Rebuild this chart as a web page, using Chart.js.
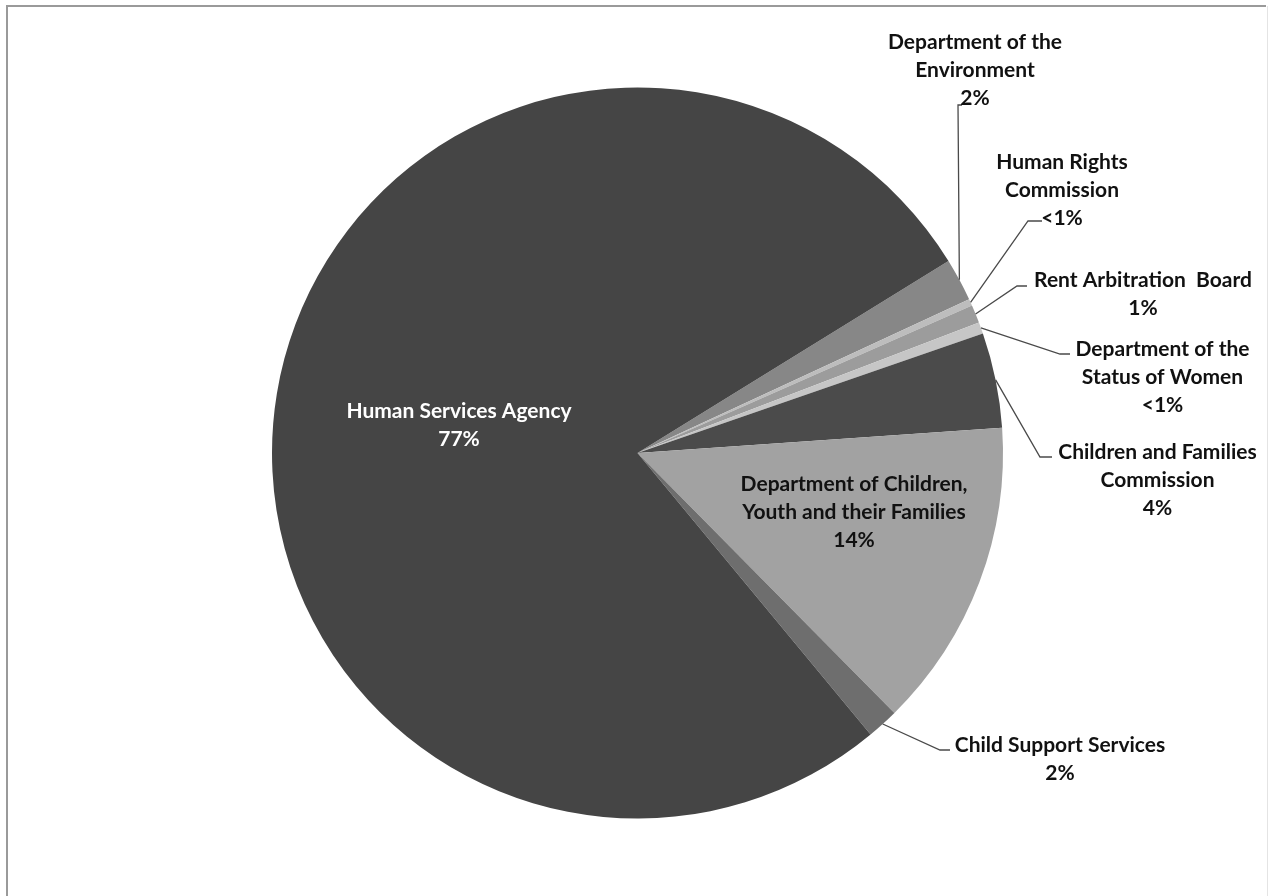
<!DOCTYPE html>
<html>
<head>
<meta charset="utf-8">
<script src="https://cdn.jsdelivr.net/npm/chart.js@4/dist/chart.umd.min.js"></script>
<style>
html,body{margin:0;padding:0;background:#fff;}
#wrap{width:1268px;height:896px;position:relative;}
</style>
</head>
<body>
<div id="wrap"><canvas id="c" width="1268" height="896"></canvas></div>
<script>
// ---- data ----
const categories = [
  "Department of the Environment",
  "Human Rights Commission",
  "Rent Arbitration Board",
  "Department of the Status of Women",
  "Children and Families Commission",
  "Department of Children, Youth and their Families",
  "Child Support Services",
  "Human Services Agency"
];
const shares = [1.9, 0.3, 0.8, 0.5, 4.2, 13.7, 1.4, 77.2];
const pctLabels = ["2%", "<1%", "1%", "<1%", "4%", "14%", "2%", "77%"];
const nameLines = [
  ["Department of the", "Environment"],
  ["Human Rights", "Commission"],
  ["Rent Arbitration  Board"],
  ["Department of the", "Status of Women"],
  ["Children and Families", "Commission"],
  ["Department of Children,", "Youth and their Families"],
  ["Child Support Services"],
  ["Human Services Agency"]
];
const sliceColors = ["#878787", "#bdbdbd", "#9c9c9c", "#c6c6c6", "#4b4b4b", "#a2a2a2", "#6e6e6e", "#454545"];

// ---- label layout (offsets from pie centre, px) ----
const labelLayout = [
  {dx: 337.5, dy: -411, color: "#111", leader: {ex: 320.5, ey: -348, hx: 324.5}},
  {dx: 424.5, dy: -291, color: "#111", leader: {ex: 390.5, ey: -232, hx: 404.5}},
  {dx: 505.5, dy: -173, color: "#111", leader: {ex: 379.5, ey: -167, hx: 389.5}},
  {dx: 525,   dy: -104, color: "#111", leader: {ex: 422.5, ey: -99, hx: 432.5}},
  {dx: 520,   dy: -1,   color: "#111", leader: {ex: 402.5, ey: 4, hx: 414.5}},
  {dx: 216.5, dy: 31,   color: "#111", leader: null},
  {dx: 422.5, dy: 292,  color: "#111", leader: {ex: 302.5, ey: 297, hx: 312.5}},
  {dx: -178.5, dy: -42, color: "#ffffff", leader: null}
];
const LINE_H = 28;
const FONT = "bold 21px Lato, 'Open Sans', sans-serif";

const framePlugin = {
  id: 'frame',
  beforeDraw(chart) {
    const ctx = chart.ctx;
    ctx.save();
    ctx.fillStyle = '#ffffff';
    ctx.fillRect(0, 0, chart.width, chart.height);
    ctx.strokeStyle = '#9a9a9a';
    ctx.lineWidth = 2;
    ctx.beginPath();
    ctx.moveTo(7, chart.height + 2);
    ctx.lineTo(7, 6);
    ctx.lineTo(1266, 6);
    ctx.stroke();
    ctx.strokeStyle = '#e4e4e4';
    ctx.lineWidth = 1;
    ctx.beginPath();
    ctx.moveTo(1267.5, 6);
    ctx.lineTo(1267.5, chart.height);
    ctx.stroke();
    ctx.restore();
  }
};

const labelPlugin = {
  id: 'pieLabels',
  afterDatasetsDraw(chart) {
    const ctx = chart.ctx;
    const meta = chart.getDatasetMeta(0);
    ctx.save();
    ctx.font = FONT;
    ctx.textAlign = 'center';
    ctx.textBaseline = 'middle';
    meta.data.forEach((arc, i) => {
      const p = arc.getProps(['x', 'y', 'startAngle', 'endAngle', 'outerRadius'], true);
      const mid = (p.startAngle + p.endAngle) / 2;
      const L = labelLayout[i];
      if (L.leader) {
        const sx = p.x + Math.cos(mid) * p.outerRadius;
        const sy = p.y + Math.sin(mid) * p.outerRadius;
        ctx.strokeStyle = '#4a4a4a';
        ctx.lineWidth = 1.3;
        ctx.beginPath();
        ctx.moveTo(sx, sy);
        ctx.lineTo(p.x + L.leader.ex, p.y + L.leader.ey);
        ctx.lineTo(p.x + L.leader.hx, p.y + L.leader.ey);
        ctx.stroke();
      }
      const lines = nameLines[i].concat([pctLabels[i]]);
      ctx.fillStyle = L.color;
      lines.forEach((t, k) => {
        ctx.fillText(t, p.x + L.dx, p.y + L.dy + k * LINE_H);
      });
    });
    ctx.restore();
  }
};

new Chart(document.getElementById('c'), {
  type: 'pie',
  data: {
    labels: categories,
    datasets: [{
      data: shares,
      backgroundColor: sliceColors,
      borderWidth: 0
    }]
  },
  options: {
    responsive: false,
    animation: false,
    rotation: 58.3,
    layout: {padding: {left: 272, right: 265, top: 87, bottom: 77}},
    plugins: {legend: {display: false}, tooltip: {enabled: false}, title: {display: false}}
  },
  plugins: [framePlugin, labelPlugin]
});
</script>
</body>
</html>
